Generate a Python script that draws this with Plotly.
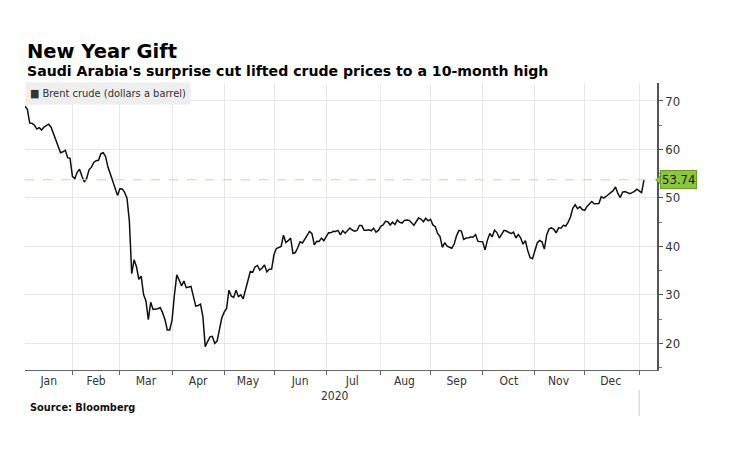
#!/usr/bin/env python3
"""
Brent crude 2020 - "New Year Gift" chart (Bloomberg style).
"""

import pandas as pd
import plotly.graph_objects as go

# Brent crude close, one value per weekday (None = no trading)
jan_2020 = [68.91, 68.27, 65.44, 65.37, 64.98, 64.20, 64.49, 64.00, 64.62, 64.85,
            65.20, 64.59, 63.21, 62.04, 60.69, 59.32, 59.51, 59.81, 58.29, 58.16]
feb_2020 = [54.45, 53.96, 55.28, 55.93, 54.47, 53.27, 54.01, 55.79, 56.34, 57.32,
            57.67, 57.75, 59.12, 59.31, 58.50, 56.30, 54.95, 53.43, 52.18, 50.52]
mar_2020 = [51.90, 51.86, 51.13, 49.99, 45.27, 34.36, 37.22, 35.79, 33.22, 33.85,
            30.05, 28.73, 24.88, 28.47, 26.98, 27.03, 27.15, 27.39, 26.34, 24.93,
            22.76, 22.74]
apr_2020 = [24.74, 29.94, 34.11, 33.05, 31.87, 32.84, 31.48, None, 31.74, 29.60,
            27.69, 27.82, 28.08, 25.57, 19.33, 20.37, 21.33, 21.44, 19.99, 20.46,
            22.54, 25.27]
may_2020 = [26.44, 27.20, 30.97, 29.72, 29.46, 30.97, 29.63, 29.98, 29.19, 31.13,
            32.50, 34.81, 34.65, 35.75, 36.06, 35.13, 35.53, 36.17, 34.74, 35.29,
            35.33]
jun_2020 = [38.32, 39.57, 39.79, 39.99, 42.30, 40.80, 41.18, 41.73, 38.55, 38.73,
            39.72, 40.96, 40.71, 41.51, 42.19, 43.08, 42.63, 40.31, 41.05, 41.02,
            41.71, 41.15]
jul_2020 = [42.03, 42.80, 42.80, 43.10, 43.08, 43.29, 42.35, 43.24, 42.72, 43.26,
            43.79, 43.37, 43.14, 43.28, 44.32, 44.29, 43.31, 43.34, 43.41, 43.22,
            43.75, 42.94, 43.30]
aug_2020 = [44.15, 44.43, 45.17, 45.09, 44.40, 44.99, 44.50, 45.43, 44.96, 44.80,
            45.37, 45.46, 45.37, 44.90, 44.35, 45.13, 45.86, 45.64, 45.09, 45.81,
            45.28]
sep_2020 = [45.58, 44.43, 44.07, 42.66, 42.01, 39.78, 40.79, 40.06, 39.83, 39.61,
            40.53, 42.22, 43.30, 43.15, 41.44, 41.72, 41.77, 41.94, 41.92, 42.43,
            41.03, 40.95]
oct_2020 = [40.93, 39.27, 41.29, 42.65, 41.99, 43.34, 42.85, 41.72, 42.45, 43.32,
            43.16, 42.93, 42.62, 42.92, 41.73, 42.46, 41.77, 40.46, 41.20, 39.12,
            37.65, 37.46]
nov_2020 = [38.97, 40.71, 41.23, 40.93, 39.45, 42.40, 43.61, 43.80, 43.53, 42.78,
            43.82, 43.75, 44.34, 44.20, 44.96, 46.06, 47.86, 48.61, 47.80, 48.18,
            47.59]
dec_2020 = [47.42, 48.25, 48.71, 49.25, 48.79, 48.84, 48.86, 50.25, 49.97, 50.29,
            50.76, 51.08, 51.50, 52.26, 50.91, 50.08, 51.20, 51.29, None, 50.86,
            51.09, 51.34, 51.80]
jan_2021 = [None, 51.09, 53.74]

month_starts = ["2020-01-06", "2020-02-01", "2020-03-01", "2020-04-01", "2020-05-01",
                "2020-06-01", "2020-07-01", "2020-08-01", "2020-09-01", "2020-10-01",
                "2020-11-01", "2020-12-01", "2021-01-01"]
month_values = [jan_2020, feb_2020, mar_2020, apr_2020, may_2020, jun_2020, jul_2020,
                aug_2020, sep_2020, oct_2020, nov_2020, dec_2020, jan_2021]
month_labels = ["Jan", "Feb", "Mar", "Apr", "May", "Jun", "Jul", "Aug", "Sep",
                "Oct", "Nov", "Dec"]

last_price = 53.74
year_label = "2020"

# Build weekday dates month by month
dates = []
prices = []
label_dates = []
boundary_dates = []
for i, (start, vals) in enumerate(zip(month_starts, month_values)):
    end = pd.Timestamp(start) + pd.offsets.MonthEnd(0)
    if start == "2021-01-01":
        end = pd.Timestamp("2021-01-05")
    days = pd.bdate_range(start, end)
    if len(days) != len(vals):
        raise ValueError(f"{start}: {len(days)} weekdays vs {len(vals)} values")
    dates.extend(days)
    prices.extend(vals)
    if i > 0:
        boundary_dates.append(days[0])
    if i < len(month_labels):
        label_dates.append(days[len(days) // 2])

df = pd.DataFrame({"Date": dates, "Brent": prices})

# The page body has an 8px margin; positions below are page pixels
W, H = 735, 456
OFF = 8
L, R, T, B = 17, 86, 75, 94
plot_w = W - L - R
plot_h = H - T - B


def px(x_page):
    return (x_page - OFF - L) / plot_w


def py(y_page):
    return (H - B - (y_page - OFF)) / plot_h


font = "DejaVu Sans"
small_font = "DejaVu Sans Condensed, Liberation Sans Narrow, DejaVu Sans"

fig = go.Figure()

fig.add_trace(go.Scatter(
    x=df["Date"],
    y=df["Brent"],
    mode="lines",
    line=dict(color="#111111", width=1.5),
    connectgaps=True,
    showlegend=False,
    hoverinfo="x+y"
))

# Latest level dashed line
fig.add_hline(y=last_price, line=dict(color="#d3d98a", width=1, dash="dash"))

fig.update_layout(
    width=W,
    height=H,
    margin=dict(l=L, r=R, t=T, b=B),
    paper_bgcolor="white",
    plot_bgcolor="white",
    font=dict(family=small_font, size=12, color="#333333"),
    showlegend=False,
)

fig.update_xaxes(
    type="date",
    range=["2020-01-06", "2021-01-12 12:00"],
    rangebreaks=[dict(bounds=["sat", "mon"])],
    tickmode="array",
    tickvals=label_dates,
    ticktext=month_labels,
    ticks="",
    showgrid=False,
    minor=dict(
        tickmode="array",
        tickvals=boundary_dates,
        ticks="outside",
        ticklen=4,
        tickcolor="#666666",
        showgrid=True,
        gridcolor="#e8e8e8",
        gridwidth=1,
    ),
    showline=True,
    linecolor="#666666",
    linewidth=1,
    tickfont=dict(family=small_font, size=12, color="#333333"),
    zeroline=False,
)

fig.update_yaxes(
    side="right",
    range=[14.5, 73.7],
    dtick=10,
    tick0=0,
    ticks="outside",
    ticklen=4,
    tickcolor="#555555",
    minor=dict(dtick=5, tick0=0, ticks="outside", ticklen=3, tickcolor="#777777",
               showgrid=False),
    showline=True,
    linecolor="#555555",
    linewidth=1.5,
    showgrid=True,
    gridcolor="#e8e8e8",
    gridwidth=1,
    tickfont=dict(family=small_font, size=13, color="#333333"),
    zeroline=False,
)

# Price tag on the right axis
fig.add_shape(
    type="path",
    xref="paper", yref="y",
    xsizemode="pixel", ysizemode="pixel",
    xanchor=1, yanchor=last_price,
    path="M -1 0 L 6 7 L 6 -7 Z",
    fillcolor="#8cc63f",
    line=dict(color="#6a9a2a", width=1),
)
fig.add_annotation(
    xref="paper", yref="y",
    x=1, y=last_price,
    xanchor="left", yanchor="middle",
    xshift=3,
    text=f"{last_price:.2f}",
    showarrow=False,
    bgcolor="#8cc63f",
    bordercolor="#6a9a2a",
    borderwidth=1,
    borderpad=1,
    font=dict(family=small_font, size=13, color="#1a1a1a"),
)

# Titles
fig.add_annotation(
    xref="paper", yref="paper", x=px(25), y=py(51),
    xanchor="left", yanchor="middle",
    text="<b>New Year Gift</b>",
    showarrow=False,
    font=dict(family=font, size=19.5, color="#000000"),
)
fig.add_annotation(
    xref="paper", yref="paper", x=px(25), y=py(71),
    xanchor="left", yanchor="middle",
    text="<b>Saudi Arabia's surprise cut lifted crude prices to a 10-month high</b>",
    showarrow=False,
    font=dict(family=font, size=14.1, color="#000000"),
)

# Legend box
fig.add_annotation(
    xref="paper", yref="paper", x=px(25), y=py(93),
    xanchor="left", yanchor="middle",
    text="■ Brent crude (dollars a barrel)",
    showarrow=False,
    bgcolor="#eeeeee",
    borderpad=4,
    font=dict(family=small_font, size=11, color="#333333"),
)

# Year label under months
fig.add_annotation(
    xref="paper", yref="paper", x=px(335), y=py(396),
    xanchor="center", yanchor="middle",
    text=year_label,
    showarrow=False,
    font=dict(family=small_font, size=12, color="#333333"),
)
fig.add_shape(
    type="line",
    xref="x", yref="paper",
    x0=boundary_dates[-1], x1=boundary_dates[-1],
    y0=py(390), y1=py(416),
    line=dict(color="#cccccc", width=1),
)

# Source
fig.add_annotation(
    xref="paper", yref="paper", x=px(28), y=py(407),
    xanchor="left", yanchor="middle",
    text="<b>Source: Bloomberg</b>",
    showarrow=False,
    font=dict(family=font, size=9.8, color="#111111"),
)

fig.write_html("out.html")
